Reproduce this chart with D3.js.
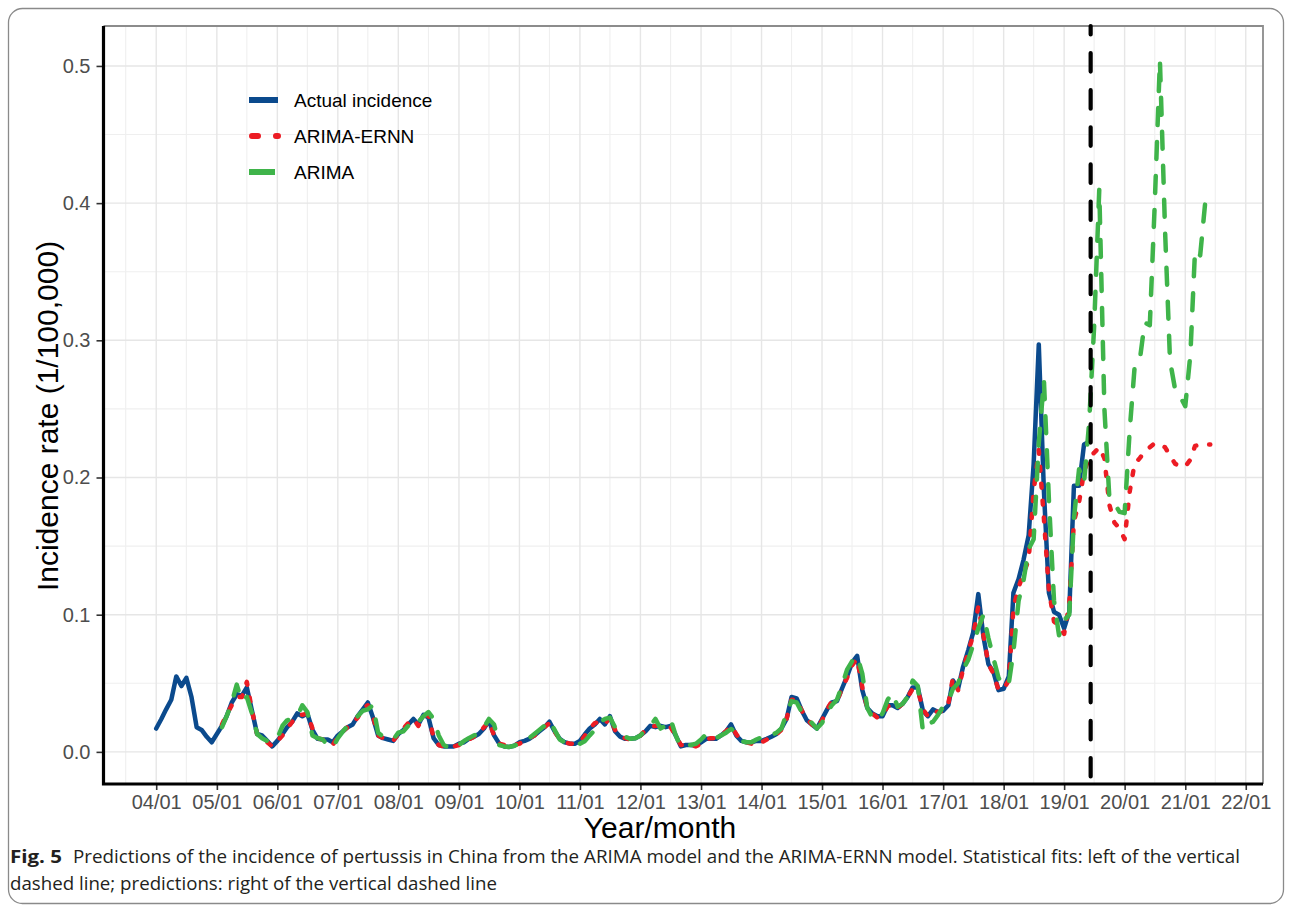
<!DOCTYPE html>
<html>
<head>
<meta charset="utf-8">
<script src="https://cdn.jsdelivr.net/npm/d3@7"></script>
<style>
  body { margin: 0; background: #fff; }
  svg { display: block; }
</style>
</head>
<body>
<svg id="chart" width="1292" height="911"></svg>
<script>
// Monthly pertussis incidence (per 100,000), China
const actualStart = new Date(2004, 0, 1);   // Jan 2004
const modelStart = new Date(2005, 1, 1);    // Feb 2005 (first fitted month)
const forecastStart = new Date(2019, 5, 10); // boundary between fits and predictions

const actual = [
  0.017, 0.024, 0.031, 0.038, 0.055, 0.048, 0.054, 0.040, 0.018, 0.016, 0.011, 0.007,
  0.013, 0.019, 0.026, 0.036, 0.042, 0.041, 0.047, 0.030, 0.013, 0.012, 0.008, 0.004,
  0.008, 0.013, 0.018, 0.022, 0.028, 0.026, 0.028, 0.016, 0.0095, 0.009, 0.009, 0.007,
  0.012, 0.015, 0.018, 0.020, 0.026, 0.031, 0.036, 0.025, 0.012, 0.010, 0.009, 0.008,
  0.013, 0.016, 0.020, 0.024, 0.020, 0.027, 0.025, 0.010, 0.005, 0.004, 0.004, 0.004,
  0.006, 0.007, 0.0095, 0.011, 0.013, 0.017, 0.023, 0.012, 0.006, 0.004, 0.0036, 0.0045,
  0.007, 0.008, 0.0095, 0.012, 0.015, 0.018, 0.022, 0.015, 0.0095, 0.007, 0.006, 0.006,
  0.008, 0.013, 0.017, 0.020, 0.024, 0.020, 0.026, 0.015, 0.011, 0.0095, 0.0095, 0.010,
  0.012, 0.015, 0.019, 0.018, 0.019, 0.018, 0.019, 0.012, 0.004, 0.005, 0.005, 0.0045,
  0.007, 0.0095, 0.0095, 0.0095, 0.012, 0.015, 0.020, 0.012, 0.008, 0.007, 0.007, 0.008,
  0.008, 0.0095, 0.011, 0.013, 0.017, 0.024, 0.040, 0.039, 0.030, 0.023, 0.020, 0.017,
  0.024, 0.031, 0.036, 0.037, 0.046, 0.055, 0.065, 0.070, 0.045, 0.032, 0.028, 0.026,
  0.026, 0.034, 0.034, 0.032, 0.035, 0.040, 0.047, 0.047, 0.030, 0.026, 0.031, 0.029,
  0.030, 0.034, 0.052, 0.046, 0.062, 0.074, 0.087, 0.115, 0.084, 0.064, 0.058, 0.045,
  0.046, 0.055, 0.116, 0.126, 0.140, 0.158, 0.210, 0.297, 0.190, 0.116, 0.102, 0.100,
  0.090, 0.102, 0.194, 0.194, 0.224, 0.226
];

// ARIMA-ERNN: fitted Feb 2005 - Jun 2019, forecast Jul 2019 - Jun 2021
const arimaErnn = [
  0.020, 0.027, 0.034, 0.040, 0.040, 0.051, 0.030, 0.013, 0.011, 0.007, 0.004,
  0.008, 0.012, 0.017, 0.022, 0.027, 0.027, 0.028, 0.017, 0.010, 0.009, 0.008, 0.005,
  0.011, 0.015, 0.018, 0.021, 0.025, 0.032, 0.034, 0.026, 0.012, 0.010, 0.009, 0.008,
  0.013, 0.017, 0.021, 0.024, 0.019, 0.026, 0.027, 0.010, 0.005, 0.004, 0.004, 0.004,
  0.005, 0.007, 0.009, 0.011, 0.013, 0.018, 0.022, 0.012, 0.006, 0.005, 0.004, 0.005,
  0.006, 0.008, 0.010, 0.012, 0.015, 0.018, 0.021, 0.015, 0.009, 0.007, 0.006, 0.006,
  0.007, 0.012, 0.017, 0.021, 0.022, 0.020, 0.026, 0.016, 0.011, 0.010, 0.009, 0.010,
  0.012, 0.016, 0.018, 0.019, 0.019, 0.018, 0.018, 0.012, 0.005, 0.005, 0.005, 0.004,
  0.006, 0.009, 0.010, 0.010, 0.012, 0.015, 0.019, 0.013, 0.008, 0.007, 0.006, 0.008,
  0.007, 0.009, 0.011, 0.013, 0.016, 0.024, 0.038, 0.038, 0.030, 0.024, 0.020, 0.017,
  0.023, 0.031, 0.037, 0.037, 0.046, 0.054, 0.063, 0.068, 0.047, 0.032, 0.028, 0.025,
  0.027, 0.033, 0.035, 0.032, 0.035, 0.040, 0.046, 0.045, 0.031, 0.026, 0.030, 0.029,
  0.030, 0.035, 0.054, 0.045, 0.060, 0.073, 0.085, 0.106, 0.085, 0.064, 0.057, 0.045,
  0.046, 0.052, 0.105, 0.120, 0.130, 0.140, 0.190, 0.220, 0.170, 0.118, 0.095, 0.092,
  0.086, 0.108, 0.168, 0.182, 0.204, 0.215, 0.218, 0.222, 0.214, 0.180, 0.167, 0.163,
  0.155, 0.190, 0.210, 0.214, 0.219, 0.222, 0.225, 0.224, 0.222, 0.216, 0.210, 0.208,
  0.208, 0.213, 0.223, 0.224, 0.224, 0.224
];

// ARIMA: fitted Feb 2005 - Jun 2019, forecast Jul 2019 - Jun 2021
const arima = [
  0.018, 0.026, 0.036, 0.049, 0.037, 0.040, 0.028, 0.013, 0.010, 0.008, 0.007,
  0.010, 0.019, 0.023, 0.024, 0.026, 0.034, 0.029, 0.012, 0.010, 0.009, 0.005, 0.003,
  0.010, 0.015, 0.019, 0.022, 0.026, 0.030, 0.031, 0.034, 0.014, 0.011, 0.010, 0.009,
  0.014, 0.015, 0.019, 0.024, 0.022, 0.026, 0.029, 0.024, 0.012, 0.005, 0.003, 0.0017,
  0.005, 0.008, 0.010, 0.012, 0.013, 0.018, 0.024, 0.020, 0.005, 0.004, 0.0036, 0.0045,
  0.006, 0.008, 0.010, 0.013, 0.016, 0.019, 0.023, 0.016, 0.009, 0.007, 0.007, 0.0065,
  0.006, 0.008, 0.012, 0.016, 0.022, 0.024, 0.025, 0.018, 0.013, 0.011, 0.0095, 0.010,
  0.012, 0.016, 0.019, 0.024, 0.017, 0.019, 0.024, 0.012, 0.0034, 0.005, 0.005, 0.006,
  0.009, 0.013, 0.0095, 0.010, 0.012, 0.014, 0.0167, 0.0143, 0.008, 0.007, 0.007, 0.009,
  0.0107, 0.010, 0.012, 0.014, 0.017, 0.028, 0.037, 0.036, 0.029, 0.025, 0.021, 0.017,
  0.021, 0.029, 0.034, 0.038, 0.048, 0.060, 0.066, 0.070, 0.057, 0.032, 0.025, 0.023,
  0.028, 0.038, 0.043, 0.033, 0.035, 0.040, 0.052, 0.048, 0.015, 0.020, 0.022, 0.027,
  0.033, 0.037, 0.046, 0.050, 0.060, 0.067, 0.078, 0.090, 0.100, 0.083, 0.068, 0.054,
  0.048, 0.050, 0.073, 0.110, 0.125, 0.148, 0.155, 0.225, 0.271, 0.184, 0.110, 0.085,
  0.096, 0.100, 0.170, 0.206, 0.196, 0.240, 0.310, 0.410, 0.250, 0.185, 0.181, 0.175,
  0.174, 0.235, 0.280, 0.285, 0.313, 0.311, 0.400, 0.504, 0.380, 0.285, 0.264, 0.259,
  0.252, 0.290, 0.366, 0.362, 0.400, 0.403
];

const yTicks = [0, 0.1, 0.2, 0.3, 0.4, 0.5];
const yMinor = [0.05, 0.15, 0.25, 0.35, 0.45];
const tickYears = d3.range(2004, 2023);
const minorYears = d3.range(2003, 2023);
const legendLabels = ["Actual incidence", "ARIMA-ERNN", "ARIMA"];
const captionBold = "Fig. 5";
const captionLines = [
  "Predictions of the incidence of pertussis in China from the ARIMA model and the ARIMA-ERNN model. Statistical fits: left of the vertical",
  "dashed line; predictions: right of the vertical dashed line"
];

// Styling
const colors = { actual: "#0b4a8d", ernn: "#ec1c24", arima: "#3fb44a" };
const font = "'Liberation Sans', Arial, sans-serif";
const panel = { left: 103.5, right: 1263, top: 26, bottom: 784 };

const monthly = (from, values) =>
  values.map((v, i) => ({ date: d3.timeMonth.offset(from, i), value: v }));

const actualData = monthly(actualStart, actual);
const ernnData = monthly(modelStart, arimaErnn);
const arimaData = monthly(modelStart, arima);
const all = actualData.concat(ernnData, arimaData);

// Scales with 5% padding on each side of the data range
const [t0, t1] = d3.extent(all, d => +d.date);
const tPad = (t1 - t0) * 0.05;
const x = d3.scaleTime()
  .domain([new Date(t0 - tPad), new Date(t1 + tPad)])
  .range([panel.left, panel.right]);

const [v0, v1] = d3.extent(all, d => d.value);
const vPad = (v1 - v0) * 0.05;
const y = d3.scaleLinear()
  .domain([v0 - vPad, v1 + vPad])
  .range([panel.bottom, panel.top]);

const svg = d3.select("#chart");

// Outer figure frame
svg.append("rect")
  .attr("x", 8.5).attr("y", 8.5).attr("width", 1275).attr("height", 895)
  .attr("rx", 14).attr("ry", 14)
  .attr("fill", "#fff").attr("stroke", "#8a8a8a").attr("stroke-width", 1.3);

// Panel grid
const grid = svg.append("g");
grid.selectAll("line.vminor").data(minorYears.map(yr => new Date(yr, 6, 1)).filter(d => x(d) > panel.left && x(d) < panel.right))
  .join("line")
  .attr("x1", d => x(d)).attr("x2", d => x(d))
  .attr("y1", panel.top).attr("y2", panel.bottom)
  .attr("stroke", "#efefef").attr("stroke-width", 1.1);
grid.selectAll("line.hminor").data(yMinor)
  .join("line")
  .attr("x1", panel.left).attr("x2", panel.right)
  .attr("y1", d => y(d)).attr("y2", d => y(d))
  .attr("stroke", "#efefef").attr("stroke-width", 1.1);
grid.selectAll("line.vmajor").data(tickYears.map(yr => new Date(yr, 0, 1)))
  .join("line")
  .attr("x1", d => x(d)).attr("x2", d => x(d))
  .attr("y1", panel.top).attr("y2", panel.bottom)
  .attr("stroke", "#e6e6e6").attr("stroke-width", 1.4);
grid.selectAll("line.hmajor").data(yTicks)
  .join("line")
  .attr("x1", panel.left).attr("x2", panel.right)
  .attr("y1", d => y(d)).attr("y2", d => y(d))
  .attr("stroke", "#e6e6e6").attr("stroke-width", 1.4);

// Panel border (top / right)
svg.append("path")
  .attr("d", `M${panel.left},${panel.top}H${panel.right}V${panel.bottom}`)
  .attr("fill", "none").attr("stroke", "#8c8c8c").attr("stroke-width", 1.8);

// Series
const line = d3.line().x(d => x(d.date)).y(d => y(d.value)).curve(d3.curveLinear);

svg.append("path").datum(actualData)
  .attr("d", line).attr("fill", "none")
  .attr("stroke", colors.actual).attr("stroke-width", 4.5)
  .attr("stroke-linejoin", "round").attr("stroke-linecap", "round");

svg.append("path").datum(ernnData)
  .attr("d", line).attr("fill", "none")
  .attr("stroke", colors.ernn).attr("stroke-width", 4.5)
  .attr("stroke-linejoin", "round").attr("stroke-linecap", "round")
  .attr("stroke-dasharray", "4 13");

svg.append("path").datum(arimaData)
  .attr("d", line).attr("fill", "none")
  .attr("stroke", colors.arima).attr("stroke-width", 4.5)
  .attr("stroke-linejoin", "round").attr("stroke-linecap", "round")
  .attr("stroke-dasharray", "17 17");

// Vertical boundary between fitted values and predictions
svg.append("line")
  .attr("x1", x(forecastStart)).attr("x2", x(forecastStart))
  .attr("y1", panel.top).attr("y2", panel.bottom)
  .attr("stroke", "#000").attr("stroke-width", 4.2)
  .attr("stroke-linecap", "round")
  .attr("stroke-dasharray", "18.5 18.6")
  .attr("stroke-dashoffset", 10);

// Axes
const xAxis = d3.axisBottom(x)
  .tickValues(tickYears.map(yr => new Date(yr, 0, 1)))
  .tickFormat(d3.timeFormat("%y/%m"))
  .tickSize(6).tickPadding(5);
const gx = svg.append("g").attr("transform", `translate(0,${panel.bottom})`).call(xAxis);
gx.select(".domain").remove();
gx.selectAll(".tick line").attr("stroke", "#333").attr("stroke-width", 1.6);
gx.selectAll(".tick text")
  .attr("fill", "#4d4d4d").style("font-family", font).style("font-size", "20px");

const yAxis = d3.axisLeft(y)
  .tickValues(yTicks)
  .tickFormat(d3.format(".1f"))
  .tickSize(7).tickPadding(6);
const gy = svg.append("g").attr("transform", `translate(${panel.left},0)`).call(yAxis);
gy.select(".domain").remove();
gy.selectAll(".tick line").attr("stroke", "#333").attr("stroke-width", 1.6);
gy.selectAll(".tick text")
  .attr("fill", "#4d4d4d").style("font-family", font).style("font-size", "20px");

// Axis lines
svg.append("path")
  .attr("d", `M${panel.left},${panel.top}V${panel.bottom}H${panel.right}`)
  .attr("fill", "none").attr("stroke", "#000").attr("stroke-width", 3.2);

// Axis titles
svg.append("text")
  .attr("x", 660).attr("y", 838)
  .attr("text-anchor", "middle")
  .style("font-family", font).style("font-size", "30px").attr("fill", "#000")
  .text("Year/month");
svg.append("text")
  .attr("transform", "translate(58,416) rotate(-90)")
  .attr("text-anchor", "middle")
  .style("font-family", font).style("font-size", "30px").attr("fill", "#000")
  .text("Incidence rate (1/100,000)");

// Legend
const legendKeys = [
  { label: legendLabels[0], color: colors.actual, dash: null, cap: "butt" },
  { label: legendLabels[1], color: colors.ernn, dash: "6 18", cap: "round" },
  { label: legendLabels[2], color: colors.arima, dash: null, cap: "butt" }
];
const legend = svg.append("g");
legendKeys.forEach((k, i) => {
  const cy = 100 + i * 36;
  legend.append("line")
    .attr("x1", k.cap === "round" ? 252 : 249).attr("x2", i === 2 ? 275 : 278)
    .attr("y1", cy).attr("y2", cy)
    .attr("stroke", k.color).attr("stroke-width", 6)
    .attr("stroke-linecap", k.cap)
    .attr("stroke-dasharray", k.dash);
  legend.append("text")
    .attr("x", 294).attr("y", cy + 6.5)
    .style("font-family", font).style("font-size", "19px").attr("fill", "#000")
    .text(k.label);
});

// Caption
const capFont = "'Open Sans', 'Noto Sans', sans-serif";
const cap = svg.append("g").attr("fill", "#231f20").style("font-family", capFont).style("font-size", "18px");
cap.append("text")
  .attr("x", 10).attr("y", 863)
  .style("font-weight", "bold")
  .attr("textLength", 52).attr("lengthAdjust", "spacingAndGlyphs")
  .text(captionBold);
cap.append("text")
  .attr("x", 73).attr("y", 863)
  .attr("textLength", 1167).attr("lengthAdjust", "spacingAndGlyphs")
  .text(captionLines[0]);
cap.append("text")
  .attr("x", 10).attr("y", 890)
  .attr("textLength", 487).attr("lengthAdjust", "spacingAndGlyphs")
  .text(captionLines[1]);
</script>
</body>
</html>
